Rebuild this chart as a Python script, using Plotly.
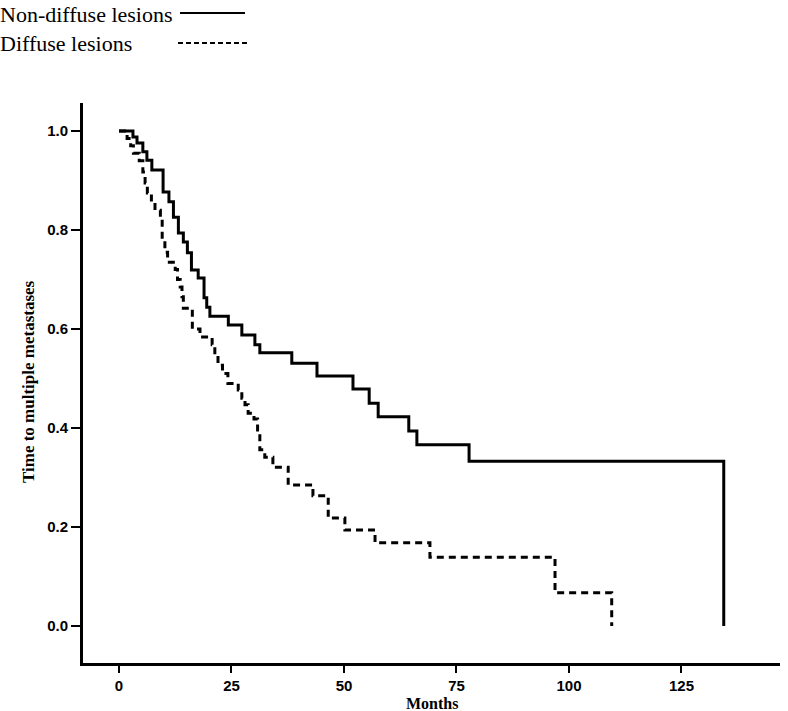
import plotly.graph_objects as go

# Kaplan-Meier steps: time of each drop (months) and the level after it
nondiffuse_months = [0, 3.1, 4.0, 5.3, 6.2, 7.3, 9.8, 11.1, 12.1, 13.2, 14.3, 15.2, 16.1, 17.6,
                     18.9, 19.5, 20.2, 24.3, 27.3, 30.2, 31.3, 38.4, 44.0, 52.0, 55.6, 57.6,
                     64.4, 66.2, 77.8, 134.4]
nondiffuse_surv = [1.0, 0.988, 0.976, 0.958, 0.941, 0.921, 0.877, 0.857, 0.826, 0.794, 0.776,
                   0.754, 0.719, 0.703, 0.663, 0.644, 0.626, 0.608, 0.588, 0.568, 0.552, 0.531,
                   0.505, 0.479, 0.450, 0.423, 0.394, 0.366, 0.333, 0.0]

diffuse_months = [0, 1.8, 2.6, 3.2, 4.5, 5.3, 5.8, 6.3, 7.2, 8.0, 9.2, 9.6, 10.2, 10.8, 12.5,
                  13.0, 13.6, 14.0, 14.3, 16.3, 18.0, 20.7, 21.3, 22.0, 23.0, 24.2, 26.5,
                  27.3, 28.0, 28.7, 30.0, 30.8, 31.3, 32.4, 34.2, 37.6, 43.1, 46.5, 50.2,
                  56.9, 69.1, 96.9, 109.5]
diffuse_surv = [1.0, 0.985, 0.97, 0.955, 0.94, 0.917, 0.895, 0.875, 0.857, 0.84, 0.823, 0.78,
                0.755, 0.735, 0.72, 0.70, 0.685, 0.665, 0.642, 0.60, 0.584, 0.568, 0.548,
                0.527, 0.51, 0.49, 0.477, 0.46, 0.447, 0.43, 0.418, 0.396, 0.356, 0.341,
                0.321, 0.285, 0.263, 0.218, 0.194, 0.168, 0.139, 0.067, 0.0]

x_ticks = [0, 25, 50, 75, 100, 125]
y_ticks = [0.0, 0.2, 0.4, 0.6, 0.8, 1.0]
y_ticklabels = ['0.0', '0.2', '0.4', '0.6', '0.8', '1.0']

W, H = 788, 711
L, R, T, B = 83, 8, 103, 48
pw, ph = W - L - R, H - T - B

def px(x):
    return (x - L) / pw

def py(y):
    return (H - B - y) / ph

tick_font = dict(family='Liberation Sans Narrow, Arial Narrow, sans-serif', size=15, color='black', weight='bold')
serif = 'Liberation Serif, Times New Roman, serif'

fig = go.Figure()
fig.add_trace(go.Scatter(x=nondiffuse_months, y=nondiffuse_surv, mode='lines', line_shape='hv',
                         line=dict(color='black', width=3), name='Non-diffuse lesions'))
fig.add_trace(go.Scatter(x=diffuse_months, y=diffuse_surv, mode='lines', line_shape='hv',
                         line=dict(color='black', width=3, dash='7px,5px'), name='Diffuse lesions'))

fig.update_xaxes(range=[-8, 146.9], tickvals=x_ticks, ticks='outside', ticklen=7, tickwidth=2,
                 tickcolor='black', showline=True, linewidth=3, linecolor='black',
                 showgrid=False, zeroline=False, tickfont=tick_font)
fig.update_yaxes(range=[-0.0747, 1.0566], tickvals=y_ticks, ticktext=y_ticklabels, ticks='outside',
                 ticklen=9, tickwidth=2, tickcolor='black', showline=True, linewidth=3,
                 linecolor='black', showgrid=False, zeroline=False, tickfont=tick_font)

# legend drawn as text with a line sample to its right, like the original
fig.add_annotation(text='Non-diffuse lesions', xref='paper', yref='paper', x=px(-2), y=py(15),
                   xanchor='left', yanchor='middle', showarrow=False,
                   font=dict(family=serif, size=22, color='black'))
fig.add_annotation(text='Diffuse lesions', xref='paper', yref='paper', x=px(-2), y=py(44),
                   xanchor='left', yanchor='middle', showarrow=False,
                   font=dict(family=serif, size=22, color='black'))
fig.add_shape(type='line', xref='paper', yref='paper', x0=px(180), x1=px(245), y0=py(13), y1=py(13),
              line=dict(color='black', width=2))
fig.add_shape(type='line', xref='paper', yref='paper', x0=px(178), x1=px(248), y0=py(43), y1=py(43),
              line=dict(color='black', width=2, dash='5px,3px'))

# axis titles
fig.add_annotation(text='<b>Months</b>', xref='paper', yref='paper', x=0.5, y=py(703),
                   xanchor='center', yanchor='middle', showarrow=False,
                   font=dict(family=serif, size=16, color='black'))
fig.add_annotation(text='<b>Time to multiple metastases</b>', xref='paper', yref='paper',
                   x=px(28), y=py(382), xanchor='center', yanchor='middle', textangle=-90,
                   showarrow=False, font=dict(family=serif, size=17, color='black'))

fig.update_layout(width=W, height=H, margin=dict(l=L, r=R, t=T, b=B),
                  plot_bgcolor='white', paper_bgcolor='white', showlegend=False)

fig.write_html("out.html", config={'displayModeBar': False},
               post_script="document.body.style.margin='0';")
